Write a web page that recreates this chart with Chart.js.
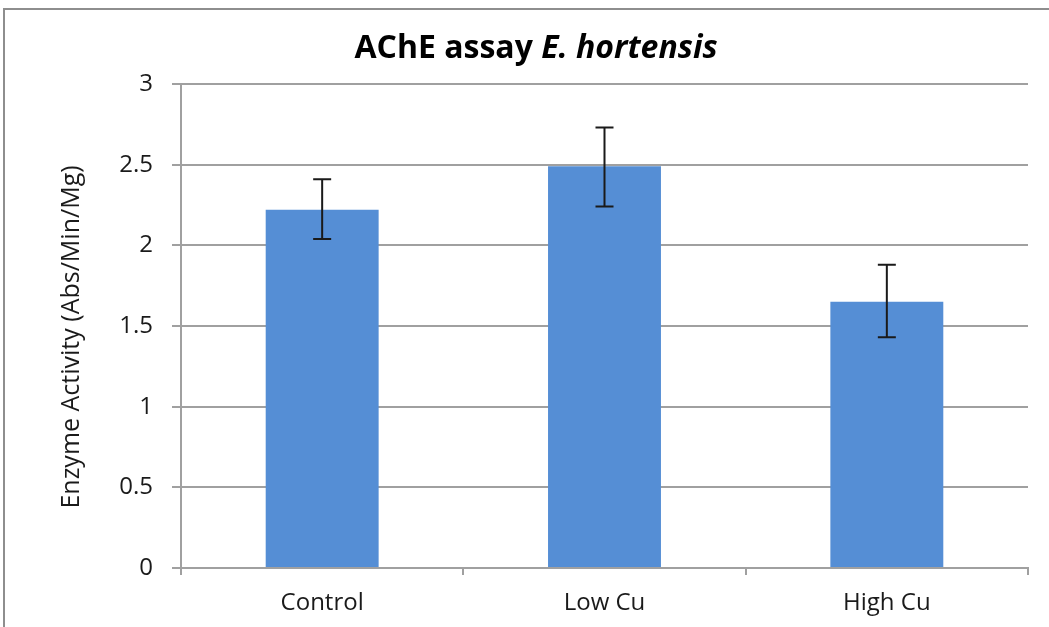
<!DOCTYPE html>
<html>
<head>
<meta charset="utf-8">
<script src="https://cdn.jsdelivr.net/npm/chart.js@4/dist/chart.umd.min.js"></script>
<style>
  html, body { margin: 0; padding: 0; background: #fff; }
  #wrap { position: relative; width: 1049px; height: 627px; }
  #frame { position: absolute; left: 3px; top: 8px; right: 0; bottom: 0;
           border-left: 2px solid #8e8e8e; border-top: 2px solid #8e8e8e; }
  canvas { position: absolute; left: 0; top: 0; }
</style>
</head>
<body>
<div id="wrap">
  <div id="frame"></div>
  <canvas id="chart" width="1049" height="627"></canvas>
</div>
<script>
// values
const categories = ['Control', 'Low Cu', 'High Cu'];
const activity = [2.22, 2.49, 1.65];
const errorLow = [2.04, 2.24, 1.43];
const errorHigh = [2.41, 2.73, 1.88];
const yTicks = [0, 0.5, 1, 1.5, 2, 2.5, 3];

const FONT = "'Open Sans', sans-serif";

// Title with the species name in italics, plus the rotated y axis title
const titlePlugin = {
    id: 'mixedTitle',
    afterDraw(chart) {
        const ctx = chart.ctx;
        const parts = [
            { text: 'AChE assay ', font: 'bold 32px ' + FONT },
            { text: 'E. hortensis', font: 'italic bold 32px ' + FONT }
        ];
        ctx.save();
        let total = 0;
        parts.forEach(p => { ctx.font = p.font; p.w = ctx.measureText(p.text).width; total += p.w; });
        let x = 536 - total / 2;
        ctx.fillStyle = '#000';
        ctx.textBaseline = 'alphabetic';
        parts.forEach(p => { ctx.font = p.font; ctx.fillText(p.text, x, 58); x += p.w; });

        // y axis title, a bit below the middle of the axis like the original
        ctx.translate(72, 337);
        ctx.rotate(-Math.PI / 2);
        ctx.font = '25px ' + FONT;
        ctx.fillStyle = '#1a1a1a';
        ctx.textAlign = 'center';
        ctx.textBaseline = 'middle';
        ctx.fillText('Enzyme Activity (Abs/Min/Mg)', 0, 0);
        ctx.restore();
    }
};

// Error bars drawn through the scales
const errorBarPlugin = {
    id: 'errorBars',
    afterDatasetsDraw(chart) {
        const ctx = chart.ctx;
        const xs = chart.scales.x, ys = chart.scales.y;
        ctx.save();
        ctx.strokeStyle = '#1a1a1a';
        ctx.lineWidth = 2;
        categories.forEach((c, i) => {
            const x = xs.getPixelForValue(i);
            const yl = ys.getPixelForValue(errorLow[i]);
            const yh = ys.getPixelForValue(errorHigh[i]);
            ctx.beginPath();
            ctx.moveTo(x, yl); ctx.lineTo(x, yh);
            ctx.moveTo(x - 9, yl); ctx.lineTo(x + 9, yl);
            ctx.moveTo(x - 9, yh); ctx.lineTo(x + 9, yh);
            ctx.stroke();
        });
        ctx.restore();
    }
};

new Chart(document.getElementById('chart').getContext('2d'), {
    type: 'bar',
    data: {
        labels: categories,
        datasets: [{
            data: activity,
            backgroundColor: '#558ed5',
            borderWidth: 0,
            barPercentage: 0.4,
            categoryPercentage: 1
        }]
    },
    options: {
        responsive: false,
        animation: false,
        layout: { padding: { top: 84, right: 21, left: 0, bottom: 0 } },
        plugins: { legend: { display: false }, tooltip: { enabled: false } },
        scales: {
            x: {
                afterFit: s => { s.height = 59; },
                grid: { offset: true, drawOnChartArea: false, drawTicks: true, tickLength: 7, color: '#a0a0a0', lineWidth: 2 },
                border: { color: '#a0a0a0', width: 2 },
                ticks: { color: '#1a1a1a', font: { family: FONT, size: 24 }, padding: 14 }
            },
            y: {
                min: 0,
                max: 3,
                afterFit: s => { s.width = 181; },
                afterBuildTicks: s => { s.ticks = yTicks.map(v => ({ value: v })); },
                grid: { color: '#a0a0a0', lineWidth: 2, tickLength: 9 },
                border: { color: '#a0a0a0', width: 2 },
                ticks: {
                    color: '#1a1a1a',
                    font: { family: FONT, size: 24 },
                    padding: 19,
                    callback: v => String(v)
                }
            }
        }
    },
    plugins: [titlePlugin, errorBarPlugin]
});
</script>
</body>
</html>
